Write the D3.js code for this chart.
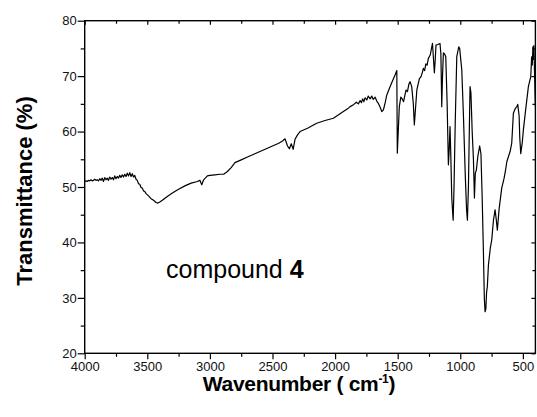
<!DOCTYPE html>
<html>
<head>
<meta charset="utf-8">
<script src="https://cdn.jsdelivr.net/npm/d3@7"></script>
<style>
  html, body { margin: 0; padding: 0; background: #fff; }
  svg { display: block; }
  text { font-family: "Liberation Sans", Arial, sans-serif; }
</style>
</head>
<body>
<svg id="chart" width="537" height="417"></svg>
<script>
// ---- data ----
const wavenumber = [
  4000,3990,3980,3970,3960,3950,3940,3930,3920,3910,3900,3890,3880,3870,3860,3850,3840,3830,3820,3810,
  3800,3790,3780,3770,3760,3750,3740,3730,3720,3710,3700,3690,3680,3670,3660,3650,3640,3630,3620,3610,
  3600,3590,3580,3570,3560,3550,3540,3530,3520,3510,3490,3470,3450,3430,3415,3400,3380,3340,3300,3250,
  3200,3150,3100,3080,3065,3050,3020,3000,2960,2920,2890,2860,2830,2800,2750,2700,2650,2600,2550,2500,
  2450,2420,2400,2380,2365,2350,2335,2320,2300,2280,2220,2147,2080,2014,1960,1934,1900,1880,1850,
  1830,1814,1800,1790,1780,1770,1760,1747,1735,1720,1707,1695,1680,1667,1655,1640,1627,1614,1600,
  1587,1561,1540,1521,1507,1503,1487,1475,1467,1453,1440,1433,1422,1410,1401,1388,1375,1367,1347,
  1326,1316,1305,1295,1285,1275,1265,1255,1240,1230,1222,1207,1200,1194,1180,1162,1155,1148,1142,
  1135,1125,1116,1105,1095,1088,1082,1075,1068,1057,1050,1040,1028,1012,1005,988,975,960,950,943,
  935,928,922,915,905,895,887,880,872,860,845,835,825,815,808,802,796,790,784,775,760,749,735,722,
  712,704,690,669,650,640,628,615,602,589,576,560,548,541,530,525,517,505,496,480,456,437,430,425,
  420,416,412,408,404,400
];
const transmittance = [
  51.0,51.1,51.0,51.2,51.1,51.3,51.1,51.2,51.4,51.2,51.3,51.1,51.5,51.2,51.6,51.0,51.7,51.3,51.6,51.2,
  51.8,51.4,51.7,51.3,52.0,51.5,51.9,51.6,52.1,51.7,52.2,51.8,52.3,51.9,52.5,52.0,52.6,51.9,52.4,51.8,
  52.1,51.4,51.2,50.6,50.5,49.9,49.8,49.3,49.2,48.8,48.4,47.9,47.6,47.2,47.1,47.3,47.6,48.3,48.9,49.6,
  50.2,50.7,51.0,51.2,50.4,51.3,52.0,52.1,52.2,52.3,52.3,52.8,53.5,54.4,54.9,55.4,55.9,56.4,56.9,57.4,
  57.9,58.3,58.7,57.4,56.9,57.8,56.8,58.6,59.4,60.0,60.6,61.5,62.0,62.4,63.2,63.6,64.1,64.5,64.9,
  65.3,65.0,65.6,65.2,65.9,65.4,66.1,65.7,66.4,65.9,66.4,65.8,66.2,65.5,65.1,64.4,63.6,63.9,65.2,
  66.6,68.1,69.2,70.2,71.0,56.1,64.5,66.2,66.0,65.4,66.8,67.5,67.2,68.6,69.0,68.1,65.0,61.2,67.5,
  69.6,69.8,70.5,71.4,71.0,72.2,72.0,73.2,73.8,75.0,75.9,70.6,73.0,75.6,75.7,75.9,74.0,64.5,70.0,
  74.2,74.0,73.5,65.0,54.0,57.0,60.9,55.0,48.0,44.0,50.0,62.0,73.5,75.3,75.0,71.1,63.0,52.0,46.0,44.0,
  50.0,60.0,68.1,67.0,60.0,55.0,48.0,52.5,53.0,55.5,57.4,56.0,48.0,38.0,30.0,27.5,28.0,31.0,32.0,36.0,39.0,40.4,44.0,45.9,
  44.0,42.2,46.0,49.8,51.6,52.8,54.6,55.5,56.4,57.9,63.3,64.2,64.5,64.9,62.8,59.0,56.0,58.0,60.3,63.5,68.1,69.9,73.5,72.0,
  75.3,73.0,75.5,71.7,68.0,64.5
];
const xTicksMajor = [4000, 3500, 3000, 2500, 2000, 1500, 1000, 500];
const xTicksMinor = [3750, 3250, 2750, 2250, 1750, 1250, 750];
const yTicksMajor = [20, 30, 40, 50, 60, 70, 80];
const yTicksMinor = [25, 35, 45, 55, 65, 75];
const xTitle = "Wavenumber ( cm";
const xTitleSup = "-1";
const yTitle = "Transmittance (%)";
const noteText = "compound ";
const noteBold = "4";

// ---- layout ----
const L = 84.7, R = 535.4, T = 20.7, B = 353.3;
const svg = d3.select("#chart");
const x = d3.scaleLinear().domain([4000, 400]).range([L, R]);
const y = d3.scaleLinear().domain([20, 80]).range([B, T]);

const data = wavenumber.map((w, i) => ({ w, t: transmittance[i] }));

// spectrum
svg.append("path")
  .datum(data)
  .attr("fill", "none")
  .attr("stroke", "#000")
  .attr("stroke-width", 1.2)
  .attr("stroke-linejoin", "round")
  .attr("d", d3.line().x(d => x(d.w)).y(d => y(d.t)));

function styleAxis(g) {
  g.selectAll(".domain").remove();
  g.selectAll("line").attr("stroke", "#000").attr("stroke-width", 1.2);
  g.selectAll("text").attr("fill", "#111").style("font-size", "13px")
    .style("font-family", '"Liberation Sans", Arial, sans-serif');
}

// bottom axis
svg.append("g").attr("transform", `translate(0,${B})`)
  .call(d3.axisBottom(x).tickValues(xTicksMajor).tickSize(6).tickPadding(2).tickFormat(d3.format("d")))
  .call(styleAxis);
svg.append("g").attr("transform", `translate(0,${B})`)
  .call(d3.axisBottom(x).tickValues(xTicksMinor).tickSize(3.5).tickFormat(""))
  .call(styleAxis);
// top axis (inward)
svg.append("g").attr("transform", `translate(0,${T})`)
  .call(d3.axisTop(x).tickValues(xTicksMajor).tickSize(-4).tickFormat(""))
  .call(styleAxis);
svg.append("g").attr("transform", `translate(0,${T})`)
  .call(d3.axisTop(x).tickValues(xTicksMinor).tickSize(-3).tickFormat(""))
  .call(styleAxis);
// left axis
svg.append("g").attr("transform", `translate(${L},0)`)
  .call(d3.axisLeft(y).tickValues(yTicksMajor).tickSize(7).tickPadding(1).tickFormat(d3.format("d")))
  .call(styleAxis);
svg.append("g").attr("transform", `translate(${L},0)`)
  .call(d3.axisLeft(y).tickValues(yTicksMinor).tickSize(4).tickFormat(""))
  .call(styleAxis);
// right axis (inward)
svg.append("g").attr("transform", `translate(${R},0)`)
  .call(d3.axisRight(y).tickValues(yTicksMajor).tickSize(-4).tickFormat(""))
  .call(styleAxis);
svg.append("g").attr("transform", `translate(${R},0)`)
  .call(d3.axisRight(y).tickValues(yTicksMinor).tickSize(-3).tickFormat(""))
  .call(styleAxis);

// frame
svg.append("rect")
  .attr("x", L).attr("y", T).attr("width", R - L).attr("height", B - T)
  .attr("fill", "none").attr("stroke", "#000").attr("stroke-width", 1.4);

// axis titles
const xt = svg.append("text")
  .attr("x", 299).attr("y", 391)
  .attr("text-anchor", "middle")
  .style("font-size", "21px").style("font-weight", "bold").attr("fill", "#000")
  .style("letter-spacing", "-0.3px");
xt.append("tspan").text(xTitle);
xt.append("tspan").text(xTitleSup).attr("dy", -8).style("font-size", "12px");
xt.append("tspan").text(")").attr("dy", 8);

svg.append("text")
  .attr("transform", `translate(32,${(T + B) / 2 + 4}) rotate(-90)`)
  .attr("text-anchor", "middle")
  .style("font-size", "22px").style("font-weight", "bold").attr("fill", "#000")
  .text(yTitle);

// annotation
const note = svg.append("text").attr("x", 166).attr("y", 278)
  .style("font-size", "25px").attr("fill", "#000");
note.append("tspan").text(noteText);
note.append("tspan").text(noteBold).style("font-weight", "bold");
</script>
</body>
</html>
